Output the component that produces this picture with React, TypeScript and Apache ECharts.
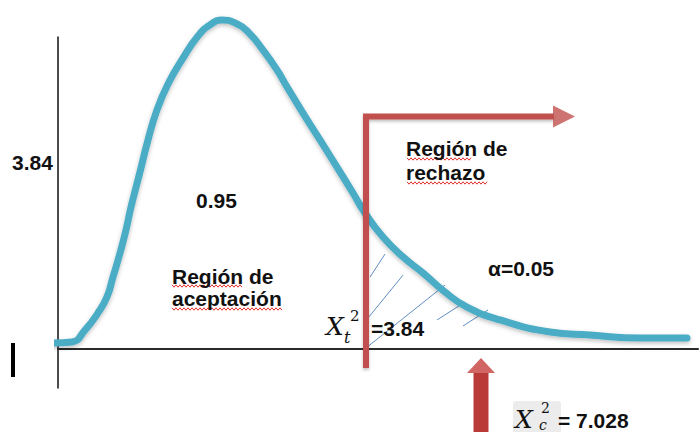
import React, { useEffect, useRef } from "react";
import * as echarts from "echarts";

// Curve (schematic chi-square density)
const curveX = [-0.125, 0.35, 0.675, 1.0, 1.225, 1.375, 1.55, 1.7, 1.825, 2.05, 2.25, 2.475, 2.75, 3.125, 3.5, 3.8, 4.1, 4.425, 4.775, 5.125, 5.475, 5.725, 6.125, 6.55, 6.975, 7.375, 7.675, 8.125, 8.625, 9.125, 9.675, 10.225, 11.05, 12.3, 13.3, 14.55, 15.725];
const curveY = [0.0031, 0.0036, 0.0097, 0.0185, 0.0267, 0.0369, 0.0492, 0.061, 0.0728, 0.0908, 0.1072, 0.1226, 0.1359, 0.1492, 0.1605, 0.1662, 0.1687, 0.1672, 0.1621, 0.1533, 0.1431, 0.1344, 0.121, 0.1072, 0.0933, 0.08, 0.0697, 0.0574, 0.0472, 0.039, 0.0292, 0.0215, 0.0149, 0.0087, 0.0072, 0.0056, 0.0056];

// Critical value (X_t^2 = 3.84) line and rejection arrow
const criticalX = 7.7;
const rejectionTop = 0.1192;
const rejectionBottom = -0.0097;
const rejectionArrowEnd = 12.4;
const rejectionArrowTip = 12.65;

// Observed statistic (X_c^2 = 7.028) arrow
const observedX = 10.575;
const observedHeadY = -0.0085;
const observedShaftTop = -0.0123;
const observedShaftBottom = -0.0426;

// Hatch strokes in rejection region
const hatchStartX = [7.8, 7.75, 7.7, 9.475, 10.125];
const hatchStartY = [0.0369, 0.0159, 0.0005, 0.0149, 0.0118];
const hatchEndX = [8.175, 8.625, 9.675, 10.175, 10.75];
const hatchEndY = [0.0487, 0.0379, 0.0328, 0.0241, 0.02];

const FONT = "'Liberation Sans', Arial, sans-serif";
const SERIF = "'DejaVu Serif', 'Liberation Serif', serif";

function squiggle(x0: number, x1: number, y: number) {
  const pts: number[][] = [];
  let up = true;
  for (let x = x0; x <= x1; x += 2) {
    pts.push([x, y + (up ? -1.2 : 1.2)]);
    up = !up;
  }
  return {
    type: "polyline",
    shape: { points: pts },
    style: { stroke: "#e0302c", lineWidth: 1, fill: null },
    silent: true,
  };
}

function txt(text: string, x: number, y: number, font: string, fill = "#111") {
  return {
    type: "text",
    x,
    y,
    style: { text, font, fill, textAlign: "left", textVerticalAlign: "middle" },
    z: 10,
  };
}

export default function App() {
  const ref = useRef<HTMLDivElement>(null);
  useEffect(() => {
    if (!ref.current) return;
    const chart = echarts.init(ref.current, undefined, { renderer: "svg" });
    const bold = `bold 21px ${FONT}`;
    chart.setOption({
      animation: false,
      backgroundColor: "#ffffff",
      grid: { left: 58, right: 2, top: 37, bottom: 44 },
      xAxis: {
        type: "value",
        min: 0,
        max: 16,
        axisLine: { show: true, onZero: true, lineStyle: { color: "#2a2a2a", width: 2 } },
        axisTick: { show: false },
        axisLabel: { show: false },
        splitLine: { show: false },
      },
      yAxis: {
        type: "value",
        min: -0.02,
        max: 0.16,
        axisLine: { show: true, onZero: true, lineStyle: { color: "#111", width: 1.5 } },
        axisTick: { show: false },
        axisLabel: { show: false },
        splitLine: { show: false },
      },
      series: [
        {
          type: "lines",
          coordinateSystem: "cartesian2d",
          data: hatchStartX.map((x, i) => ({
            coords: [
              [x, hatchStartY[i]],
              [hatchEndX[i], hatchEndY[i]],
            ],
          })),
          lineStyle: { color: "#4F81BD", width: 1, opacity: 0.9 },
          z: 2,
        },
        {
          type: "line",
          data: curveX.map((x, i) => [x, curveY[i]]),
          smooth: 0.5,
          symbol: "none",
          clip: false,
          lineStyle: {
            color: "#4BACC6",
            width: 7,
            cap: "round",
            join: "round",
            shadowColor: "rgba(0,0,0,0.25)",
            shadowBlur: 4,
            shadowOffsetY: 2,
          },
          z: 3,
        },
        {
          type: "line",
          data: [
            [criticalX, rejectionBottom],
            [criticalX, rejectionTop],
            [rejectionArrowEnd, rejectionTop],
          ],
          symbol: "none",
          clip: false,
          lineStyle: {
            color: "#C0504D",
            width: 6,
            join: "miter",
            cap: "butt",
            shadowColor: "rgba(0,0,0,0.25)",
            shadowBlur: 3,
            shadowOffsetY: 2,
          },
          z: 4,
        },
        {
          type: "scatter",
          data: [[rejectionArrowTip, rejectionTop]],
          symbol: "triangle",
          symbolSize: [22, 22],
          symbolRotate: -90,
          clip: false,
          itemStyle: { color: "#C0504D" },
          z: 4,
        },
        {
          type: "line",
          data: [
            [observedX, observedShaftTop],
            [observedX, observedShaftBottom],
          ],
          symbol: "none",
          clip: false,
          lineStyle: { color: "#B93A37", width: 15, cap: "butt" },
          z: 4,
        },
        {
          type: "scatter",
          data: [[observedX, observedHeadY]],
          symbol: "triangle",
          symbolSize: [28, 15],
          clip: false,
          itemStyle: { color: "#C43F3C" },
          z: 4,
        },
      ],
      graphic: [
        { type: "rect", shape: { x: 11, y: 343, width: 4, height: 34 }, style: { fill: "#000" } },
        txt("3.84", 12, 162, bold),
        txt("0.95", 196, 200, bold),
        txt("Región de", 172, 276, bold),
        txt("aceptación", 172, 298, bold),
        txt("Región de", 406, 148, bold),
        txt("rechazo", 406, 172, bold),
        txt("α=0.05", 488, 268, bold),
        txt("X", 326, 326, `italic 25px ${SERIF}`),
        txt("2", 350, 316, `15px ${SERIF}`),
        txt("t", 344, 337, `italic 16px ${SERIF}`),
        txt("=3.84", 371, 328, bold),
        { type: "rect", shape: { x: 513, y: 401, width: 48, height: 34, r: 3 }, style: { fill: "#ececec" }, z: 9 },
        txt("X", 515, 419, `italic 25px ${SERIF}`),
        txt("2", 541, 408, `14px ${SERIF}`),
        txt("c", 539, 425, `italic 14px ${SERIF}`),
        txt("= 7.028", 558, 420, bold),
        squiggle(172, 243, 286),
        squiggle(172, 283, 309),
        squiggle(407, 472, 159),
        squiggle(407, 487, 183),
      ],
    });
    return () => chart.dispose();
  }, []);
  return (
    <div
      ref={ref}
      style={{ position: "fixed", left: 0, top: 0, width: 700, height: 432, background: "#fff" }}
    />
  );
}
